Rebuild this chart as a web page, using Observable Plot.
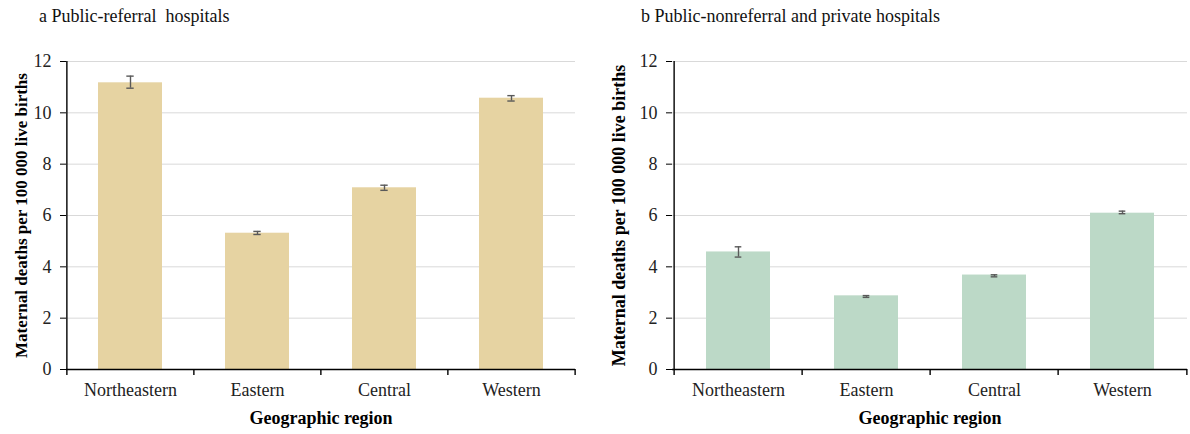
<!DOCTYPE html>
<html><head><meta charset="utf-8">
<script src="https://cdn.jsdelivr.net/npm/d3@7"></script>
<script src="https://cdn.jsdelivr.net/npm/@observablehq/plot@0.6"></script>
<style>
body{margin:0;background:#fff;}
#wrap{display:flex;width:1190px;height:434px;font-family:"Liberation Serif","Times New Roman",serif;}
.panel{width:595px;height:434px;position:relative;}
.title{position:absolute;top:7px;font-size:18px;white-space:pre;line-height:1;color:#111;}
.panel svg{position:absolute;top:30px;left:0;font-family:"Liberation Serif","Times New Roman",serif !important;}
.panel svg text{font-family:"Liberation Serif","Times New Roman",serif !important;}
</style></head><body><div id="wrap"></div>
<script>
const regions = ["Northeastern", "Eastern", "Central", "Western"];
const referralRate = [11.17, 5.31, 7.08, 10.57];
const referralLow = [10.96, 5.26, 6.98, 10.46];
const referralHigh = [11.43, 5.38, 7.18, 10.67];
const otherRate = [4.58, 2.87, 3.68, 6.09];
const otherLow = [4.38, 2.81, 3.61, 6.07];
const otherHigh = [4.78, 2.88, 3.69, 6.17];
const yTicks = [0, 2, 4, 6, 8, 10, 12];
const titles = ["a Public-referral  hospitals", "b Public-nonreferral and private hospitals"];
const yLabel = "Maternal deaths per 100 000 live births";
const xLabel = "Geographic region";

const FONT = '"Liberation Serif","Times New Roman",serif';

function panel({rate, low, high, color, ml, mr, title, titleX, yLabelSize, yLabelDx}) {
  const W = 595, H = 404, mt = 31, mb = 65;
  const step = (W - ml - mr) / regions.length;
  const band = step / 2;
  const capW = 7;
  const ins = (band - capW) / 2;
  const rows = regions.map((r, i) => ({region: r, rate: rate[i], low: low[i], high: high[i]}));
  const errStyle = {stroke: "#595959", strokeWidth: 1.4};
  const svg = Plot.plot({
    width: W, height: H, marginLeft: ml, marginRight: mr, marginTop: mt, marginBottom: mb,
    style: {fontFamily: FONT, fontSize: "18px", color: "#222", background: "#fff"},
    x: {domain: regions, paddingInner: 0.5, paddingOuter: 0.25, label: null, axis: null},
    y: {domain: [0, 12], ticks: yTicks, label: null, axis: null},
    marks: [
      Plot.gridY(yTicks, {stroke: "#d9d9d9", strokeOpacity: 1, strokeWidth: 1}),
      Plot.barY(rows, {x: "region", y: "rate", fill: color}),
      Plot.ruleX(rows, {x: "region", y1: "low", y2: "high", ...errStyle}),
      Plot.tickY(rows, {x: "region", y: "low", insetLeft: ins, insetRight: ins, ...errStyle}),
      Plot.tickY(rows, {x: "region", y: "high", insetLeft: ins, insetRight: ins, ...errStyle}),
      Plot.ruleY([0], {stroke: "#000", strokeWidth: 1.4}),
      Plot.ruleX([regions[0]], {x: d => d, y1: 0, y2: 12, dx: -step / 2, stroke: "#000", strokeWidth: 1.4}),
      Plot.axisY(yTicks, {tickSize: 6, tickPadding: 9, fontSize: 18, fontFamily: FONT, label: null, stroke: "#000", fill: "#222"}),
      Plot.axisX(regions, {tickSize: 0, tickPadding: 14, fontSize: 18, fontFamily: FONT, label: null, fill: "#222"}),
      Plot.axisX(regions, {tickSize: 6, tickFormat: () => "", dx: -step / 2, label: null, stroke: "#000", strokeWidth: 1.4}),
      Plot.axisX([regions[regions.length - 1]], {tickSize: 6, tickFormat: () => "", dx: step / 2, label: null, stroke: "#000", strokeWidth: 1.4}),
      Plot.text([yLabel], {frameAnchor: "left", textAnchor: "middle", dx: yLabelDx, rotate: -90, fontSize: yLabelSize, fontFamily: FONT, fontWeight: "bold", fill: "#000"}),
      Plot.text([xLabel], {frameAnchor: "bottom", dy: 54, fontSize: 18, fontFamily: FONT, fontWeight: "bold", fill: "#000"})
    ]
  });
  const div = document.createElement("div");
  div.className = "panel";
  const t = document.createElement("div");
  t.className = "title";
  t.style.left = titleX + "px";
  t.textContent = title;
  div.appendChild(t);
  div.appendChild(svg);
  return div;
}

const wrap = document.getElementById("wrap");
wrap.appendChild(panel({rate: referralRate, low: referralLow, high: referralHigh, color: "#e6d3a2",
  ml: 66, mr: 20, title: titles[0], titleX: 39, yLabelSize: 17, yLabelDx: -45}));
wrap.appendChild(panel({rate: otherRate, low: otherLow, high: otherHigh, color: "#bcd9c7",
  ml: 77, mr: 3, title: titles[1], titleX: 46, yLabelSize: 18, yLabelDx: -53}));
</script></body></html>
